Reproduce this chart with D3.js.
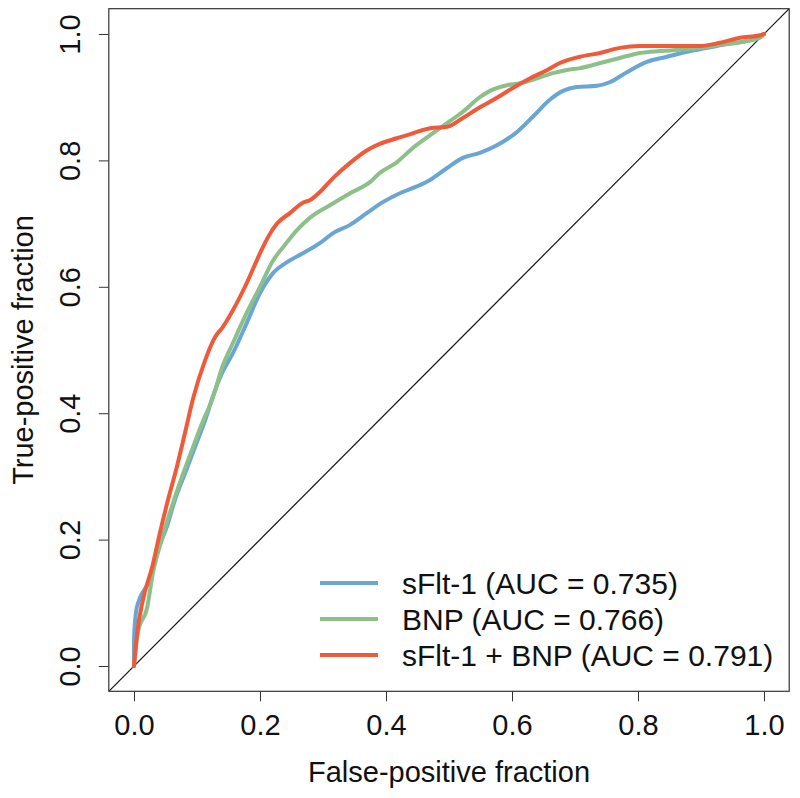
<!DOCTYPE html>
<html>
<head>
<meta charset="utf-8">
<script src="https://cdn.jsdelivr.net/npm/d3@7"></script>
<style>
  html, body { margin: 0; padding: 0; background: #fff; }
  svg text { font-family: "Liberation Sans", Arial, Helvetica, sans-serif; fill: #111; }
</style>
</head>
<body>
<div id="chart"></div>
<script>
// ROC curves: false-positive fraction (x) vs true-positive fraction (y)
const sfltFpf = [0, 0.000, 0.003, 0.008, 0.014, 0.021, 0.029, 0.038, 0.052, 0.065, 0.081, 0.097, 0.113, 0.125, 0.140, 0.157, 0.179, 0.200, 0.221, 0.243, 0.268, 0.295, 0.316, 0.343, 0.370, 0.395, 0.422, 0.447, 0.470, 0.497, 0.522, 0.549, 0.576, 0.608, 0.633, 0.660, 0.681, 0.703, 0.735, 0.756, 0.783, 0.814, 0.846, 0.878, 0.910, 0.941, 0.973, 1];
const sfltTpf = [0, 0.041, 0.084, 0.104, 0.117, 0.128, 0.152, 0.184, 0.220, 0.263, 0.305, 0.347, 0.389, 0.426, 0.464, 0.495, 0.543, 0.590, 0.622, 0.639, 0.653, 0.669, 0.685, 0.698, 0.717, 0.734, 0.748, 0.758, 0.769, 0.788, 0.804, 0.812, 0.824, 0.845, 0.869, 0.896, 0.910, 0.916, 0.918, 0.924, 0.940, 0.956, 0.964, 0.972, 0.978, 0.984, 0.989, 1];

const bnpFpf = [0, 0.006, 0.021, 0.030, 0.044, 0.060, 0.076, 0.092, 0.110, 0.124, 0.140, 0.157, 0.179, 0.200, 0.221, 0.237, 0.259, 0.279, 0.311, 0.343, 0.375, 0.390, 0.417, 0.443, 0.470, 0.497, 0.522, 0.549, 0.565, 0.592, 0.613, 0.640, 0.665, 0.687, 0.708, 0.740, 0.771, 0.803, 0.835, 0.867, 0.898, 0.930, 0.962, 0.994, 1];
const bnpTpf = [0, 0.052, 0.093, 0.147, 0.200, 0.252, 0.299, 0.342, 0.389, 0.421, 0.473, 0.511, 0.559, 0.600, 0.642, 0.663, 0.690, 0.709, 0.729, 0.748, 0.766, 0.780, 0.797, 0.820, 0.840, 0.859, 0.877, 0.900, 0.910, 0.919, 0.922, 0.930, 0.938, 0.943, 0.946, 0.954, 0.962, 0.970, 0.973, 0.975, 0.978, 0.983, 0.987, 0.994, 1];

const bothFpf = [0, 0.005, 0.014, 0.029, 0.041, 0.054, 0.068, 0.081, 0.094, 0.113, 0.129, 0.140, 0.157, 0.179, 0.200, 0.213, 0.227, 0.248, 0.268, 0.279, 0.295, 0.316, 0.343, 0.370, 0.390, 0.417, 0.443, 0.470, 0.497, 0.522, 0.549, 0.576, 0.602, 0.629, 0.656, 0.676, 0.708, 0.740, 0.771, 0.803, 0.835, 0.867, 0.898, 0.930, 0.962, 0.994, 1];
const bothTpf = [0, 0.052, 0.104, 0.157, 0.210, 0.263, 0.315, 0.369, 0.424, 0.484, 0.521, 0.535, 0.563, 0.606, 0.653, 0.679, 0.700, 0.717, 0.733, 0.737, 0.750, 0.772, 0.796, 0.816, 0.826, 0.835, 0.843, 0.851, 0.853, 0.867, 0.884, 0.899, 0.915, 0.930, 0.943, 0.954, 0.964, 0.970, 0.978, 0.981, 0.981, 0.981, 0.981, 0.986, 0.994, 0.998, 1];

const seriesNames  = ["sFlt-1 (AUC = 0.735)", "BNP (AUC = 0.766)", "sFlt-1 + BNP (AUC = 0.791)"];
const seriesColors = ["#6aa6d3", "#8dbf89", "#ef5a3b"];
const tickValues   = [0, 0.2, 0.4, 0.6, 0.8, 1.0];

const series = [
    { name: seriesNames[0], color: seriesColors[0], pts: sfltFpf.map((x, i) => [x, sfltTpf[i]]) },
    { name: seriesNames[1], color: seriesColors[1], pts: bnpFpf.map((x, i) => [x, bnpTpf[i]]) },
    { name: seriesNames[2], color: seriesColors[2], pts: bothFpf.map((x, i) => [x, bothTpf[i]]) }
];

const W = 800, H = 798;
const FONT = 29;
const LEGEND_FONT = 30;

// R style: 4% padding on each side of [0,1]
const xScale = d3.scaleLinear().domain([-0.04, 1.04]).range([108.8, 789.2]);
const yScale = d3.scaleLinear().domain([-0.04, 1.04]).range([691.3, 8.7]);

const svg = d3.select("#chart").append("svg")
    .attr("width", W)
    .attr("height", H);

const x0 = xScale.range()[0], x1 = xScale.range()[1];
const y0 = yScale.range()[0], y1 = yScale.range()[1];

svg.append("clipPath").attr("id", "plotClip")
  .append("rect")
    .attr("x", x0).attr("y", y1)
    .attr("width", x1 - x0).attr("height", y0 - y1);

// diagonal reference line
svg.append("line")
    .attr("clip-path", "url(#plotClip)")
    .attr("x1", xScale(-0.04)).attr("y1", yScale(-0.04))
    .attr("x2", xScale(1.04)).attr("y2", yScale(1.04))
    .style("stroke", "#111")
    .style("stroke-width", 1.2);

// curves
const line = d3.line()
    .x(d => xScale(d[0]))
    .y(d => yScale(d[1]))
    .curve(d3.curveMonotoneX);

svg.append("g").selectAll("path")
    .data(series)
    .enter()
    .append("path")
    .attr("d", d => line(d.pts))
    .style("fill", "none")
    .style("stroke", d => d.color)
    .style("stroke-width", 4)
    .style("stroke-linejoin", "round")
    .style("stroke-linecap", "round");

// x-axis
const xAxis = d3.axisBottom(xScale).tickValues(tickValues).tickFormat(d3.format(".1f")).tickSize(10);
const gx = svg.append("g")
    .attr("transform", `translate(0, ${y0})`)
    .call(xAxis);
gx.select(".domain").remove();
gx.selectAll("line").style("stroke", "#333");
gx.selectAll("text")
    .attr("dy", null)
    .attr("y", 44)
    .style("font-size", FONT + "px");

// y-axis, labels rotated like R's default las
const yAxis = d3.axisLeft(yScale).tickValues(tickValues).tickFormat(d3.format(".1f")).tickSize(10);
const gy = svg.append("g")
    .attr("transform", `translate(${x0}, 0)`)
    .call(yAxis);
gy.select(".domain").remove();
gy.selectAll("line").style("stroke", "#333");
gy.selectAll("text")
    .attr("x", null).attr("dy", null)
    .attr("transform", "translate(-29, 0) rotate(-90)")
    .attr("text-anchor", "middle")
    .style("font-size", FONT + "px");

// box
svg.append("rect")
    .attr("x", x0).attr("y", y1)
    .attr("width", x1 - x0).attr("height", y0 - y1)
    .style("fill", "none")
    .style("stroke", "#333")
    .style("stroke-width", 1.2);

// axis titles
svg.append("text")
    .attr("x", (x0 + x1) / 2)
    .attr("y", 782)
    .attr("text-anchor", "middle")
    .style("font-size", FONT + "px")
    .text("False-positive fraction");

svg.append("text")
    .attr("transform", `translate(33, ${(y0 + y1) / 2}) rotate(-90)`)
    .attr("text-anchor", "middle")
    .style("font-size", FONT + "px")
    .text("True-positive fraction");

// legend
const legend = svg.append("g").selectAll("g")
    .data(series)
    .enter()
    .append("g")
    .attr("transform", (d, i) => `translate(320, ${583 + i * 36})`);

legend.append("line")
    .attr("x1", 0).attr("x2", 58)
    .style("stroke", d => d.color)
    .style("stroke-width", 4);

legend.append("text")
    .attr("x", 82)
    .attr("y", 11)
    .style("font-size", LEGEND_FONT + "px")
    .text(d => d.name);
</script>
</body>
</html>
